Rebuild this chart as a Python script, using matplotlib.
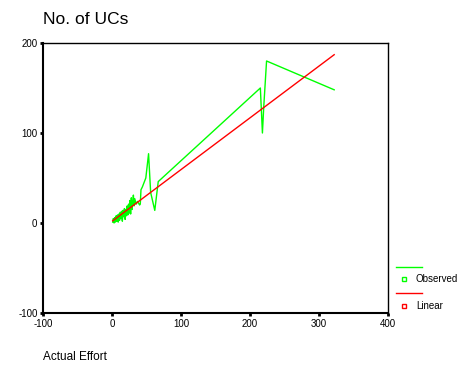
import matplotlib
matplotlib.use("Agg")
import matplotlib.pyplot as plt
from matplotlib.lines import Line2D

plt.rcParams['font.family'] = ['Liberation Sans', 'DejaVu Sans']
plt.rcParams['axes.unicode_minus'] = False

# Observed series (sorted by effort)
effort = [1, 2, 3, 4, 5, 6, 7, 8, 9, 10, 11, 12, 13, 14, 15, 16, 17, 18, 19, 20,
          21, 22, 23, 24, 25, 26, 27, 28, 29, 30, 31, 32, 33, 35, 37, 40, 41, 42,
          44, 47, 49, 53, 56, 62, 67, 215, 218, 220, 224, 322]
ucs = [1, 5, 0, 6, 1, 8, 2, 9, 1, 10, 3, 12, 5, 13, 2, 14, 7, 16, 4, 15,
       8, 19, 9, 21, 11, 25, 10, 28, 15, 23, 31, 19, 27, 21, 24, 20, 21, 37,
       40, 46, 50, 77, 34, 14, 46, 150, 100, 130, 180, 148]

# Linear fit line
linear_x = [1, 322]
linear_y = [2.4, 187]

xticks = [-100, 0, 100, 200, 300, 400]
yticks = [-100, 0, 100, 200]

W, H = 464, 368
fig = plt.figure(figsize=(W / 100, H / 100), dpi=100)
ax = fig.add_axes([43 / W, 1 - 313 / H, (388 - 43) / W, (313 - 43) / H])

ax.plot(effort, ucs, color='#00ff00', lw=1.0)
ax.plot(linear_x, linear_y, color='#ff0000', lw=1.0)

ax.set_xlim(-100, 400)
ax.set_ylim(-100, 200)
ax.set_xticks(xticks)
ax.set_yticks(yticks)
ax.tick_params(direction='out', length=2, width=2, labelsize=7, pad=2, colors='black')
for s in ax.spines.values():
    s.set_linewidth(1.0)
    s.set_color('black')
ax.spines['left'].set_linewidth(1.5)
ax.spines['bottom'].set_linewidth(1.5)

# title and axis label, placed like the SPSS output
fig.text(43 / W, 1 - 20 / H, 'No. of UCs', fontsize=12.5, ha='left', va='center')
fig.text(43 / W, 1 - 357 / H, 'Actual Effort', fontsize=8.5, ha='left', va='center')

# legend outside on the right
def px(x, y):
    return x / W, 1 - y / H

for yl, ym, col, lab in [(267, 279, '#00ff00', 'Observed'), (293, 306, '#ff0000', 'Linear')]:
    x0, y0 = px(396, yl)
    x1, _ = px(422, yl)
    fig.add_artist(Line2D([x0, x1], [y0, y0], color=col, lw=1.0, transform=fig.transFigure))
    mx, my = px(404, ym)
    fig.add_artist(Line2D([mx], [my], marker='s', ms=3, mfc='none', mec=col, mew=1.0,
                          transform=fig.transFigure))
    tx, ty = px(416, ym)
    fig.text(tx, ty, lab, fontsize=7, ha='left', va='center')

fig.savefig('out.png', dpi=100)
